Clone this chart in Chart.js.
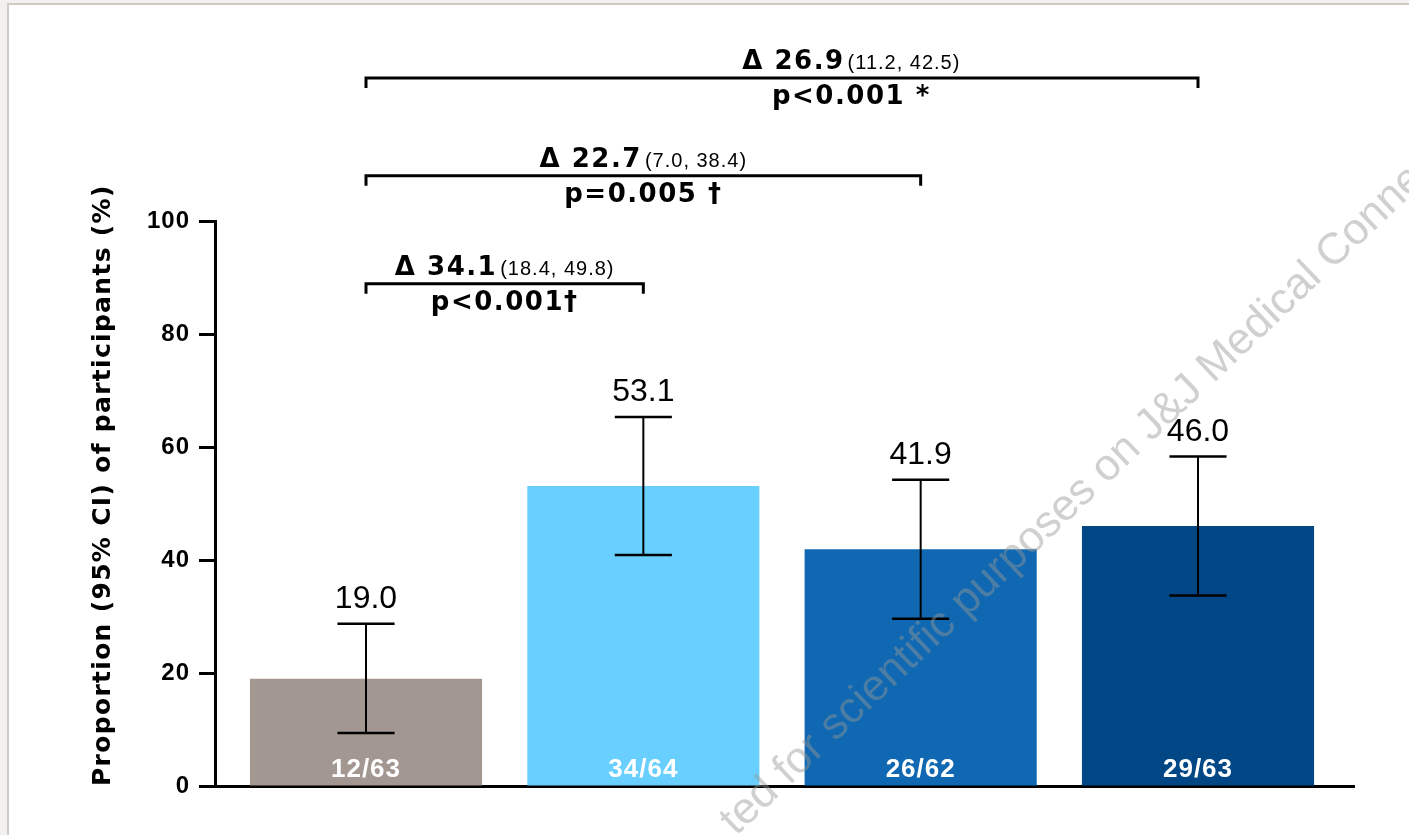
<!DOCTYPE html>
<html>
<head>
<meta charset="utf-8">
<script src="https://cdn.jsdelivr.net/npm/chart.js@4.4.1/dist/chart.umd.min.js"></script>
<style>
    html, body { margin: 0; padding: 0; overflow: hidden; }
    body { width: 1409px; height: 835px; background: #f2f1ef; position: relative; }
    #panel {
        position: absolute; left: 7px; top: 3px; width: 1500px; height: 1000px;
        background: #fff; border-top: 2px solid #cfcac4; border-left: 2px solid #cfcac4;
    }
    #chart { position: absolute; left: 0; top: 0; }
</style>
</head>
<body>
<div id="panel"></div>
<canvas id="chart" width="1409" height="835"></canvas>
<script>
// ---- Data: responders / n, proportion and 95% CI per arm ----
const groupLabels = ["12/63", "34/64", "26/62", "29/63"];
const proportions = [19.0, 53.1, 41.9, 46.0];
const ciLow       = [9.4, 40.9, 29.6, 33.7];
const ciHigh      = [28.7, 65.3, 54.2, 58.3];
const yTickValues = [0, 20, 40, 60, 80, 100];

// ---- Pairwise comparisons against the first arm ----
const cmpFrom  = [0, 0, 0];
const cmpTo    = [1, 2, 3];
const cmpDelta = ["34.1", "22.7", "26.9"];
const cmpCI    = ["(18.4, 49.8)", "(7.0, 38.4)", "(11.2, 42.5)"];
const cmpP     = ["p<0.001\u2020", "p=0.005 \u2020", "p<0.001 *"];

const yTitle    = "Proportion (95% CI) of participants (%)";
const barColors = ["#a39791", "#69cfff", "#0f68b1", "#014786"];
const FONT      = '"Liberation Sans", Arial, Helvetica, sans-serif';
const WIDE      = '"DejaVu Sans", "Liberation Sans", sans-serif';

// error bars, value labels, brackets, axis title and watermark
const overlay = {
    id: "overlay",

    beforeDraw(chart) {
        chart.ctx.letterSpacing = "1px";     // tracked tick labels
    },

    beforeDatasetsDraw(chart) {
        chart.ctx.letterSpacing = "0px";
    },

    afterDatasetsDraw(chart) {
        const ctx  = chart.ctx;
        const y    = chart.scales.y;
        const bars = chart.getDatasetMeta(0).data;

        ctx.save();
        bars.forEach((bar, i) => {
            const cx      = bar.x;
            const capHalf = bar.width * 0.123;
            const yLo     = y.getPixelForValue(ciLow[i]);
            const yHi     = y.getPixelForValue(ciHigh[i]);

            ctx.strokeStyle = "#000";
            ctx.lineWidth = 2;
            ctx.beginPath();
            ctx.moveTo(cx, yLo);
            ctx.lineTo(cx, yHi);
            ctx.stroke();

            ctx.lineWidth = 2.5;
            ctx.beginPath();
            ctx.moveTo(cx - capHalf, yLo); ctx.lineTo(cx + capHalf, yLo);
            ctx.moveTo(cx - capHalf, yHi); ctx.lineTo(cx + capHalf, yHi);
            ctx.stroke();

            // value above the upper whisker
            ctx.fillStyle = "#000";
            ctx.font = "32px " + FONT;
            ctx.textAlign = "center";
            ctx.textBaseline = "alphabetic";
            ctx.letterSpacing = "0px";
            ctx.fillText(proportions[i].toFixed(1), cx, yHi - 16);

            // n/N at the foot of the bar
            ctx.fillStyle = "#fff";
            ctx.font = "bold 26px " + FONT;
            ctx.letterSpacing = "1px";
            ctx.fillText(groupLabels[i], cx, y.getPixelForValue(0) - 9);
            ctx.letterSpacing = "0px";
        });
        ctx.restore();
    },

    afterDraw(chart, args, opts) {
        const ctx  = chart.ctx;
        const x    = chart.scales.x;
        const y    = chart.scales.y;
        const area = chart.chartArea;

        // ---- significance brackets ----
        ctx.save();
        ctx.strokeStyle = "#000";
        ctx.fillStyle = "#000";
        ctx.textBaseline = "alphabetic";
        cmpFrom.forEach((from, k) => {
            const x1  = x.getPixelForValue(from);
            const x2  = x.getPixelForValue(cmpTo[k]);
            const yy  = y.getPixelForValue(opts.levels[k]);
            const mid = x.getPixelForValue(opts.labelAt[k]);

            ctx.lineWidth = 3;
            ctx.beginPath();
            ctx.moveTo(x1, yy + 10);
            ctx.lineTo(x1, yy);
            ctx.lineTo(x2, yy);
            ctx.lineTo(x2, yy + 10);
            ctx.stroke();

            const head = "\u0394 " + cmpDelta[k];
            ctx.font = "bold 26px " + WIDE;
            ctx.letterSpacing = "1.5px";
            const w1 = ctx.measureText(head).width;
            ctx.font = "20px " + FONT;
            ctx.letterSpacing = "1px";
            const w2 = ctx.measureText(cmpCI[k]).width;
            const gap = 3;
            const sx = mid - (w1 + gap + w2) / 2;

            ctx.textAlign = "left";
            ctx.font = "bold 26px " + WIDE;
            ctx.letterSpacing = "1.5px";
            ctx.fillText(head, sx, yy - 9);
            ctx.font = "20px " + FONT;
            ctx.letterSpacing = "1px";
            ctx.fillText(cmpCI[k], sx + w1 + gap, yy - 9);

            ctx.textAlign = "center";
            ctx.font = "bold 26px " + WIDE;
            ctx.letterSpacing = "1.5px";
            ctx.fillText(cmpP[k], mid, yy + 26);
        });
        ctx.restore();

        // ---- y axis title, reading upwards from the baseline ----
        ctx.save();
        ctx.translate(area.left - 105, area.bottom);
        ctx.rotate(-Math.PI / 2);
        ctx.font = "bold 25px " + WIDE;
        ctx.letterSpacing = "1.3px";
        ctx.fillStyle = "#000";
        ctx.textAlign = "left";
        ctx.textBaseline = "alphabetic";
        ctx.fillText(yTitle, 0, 0);
        ctx.restore();

        // ---- diagonal watermark ----
        const pre = "ted for scientific purposes on ";
        ctx.save();
        ctx.translate(chart.width * 0.817, chart.height * 0.530);
        ctx.rotate(-43.5 * Math.PI / 180);
        ctx.font = "44px " + FONT;
        ctx.letterSpacing = "0px";
        ctx.fillStyle = "rgba(150,150,150,0.45)";
        ctx.textAlign = "left";
        ctx.textBaseline = "alphabetic";
        ctx.fillText(pre + "J&J Medical Connect", -ctx.measureText(pre).width, 0);
        ctx.restore();
    }
};

new Chart(document.getElementById("chart"), {
    type: "bar",
    data: {
        datasets: [{
            data: proportions.map((v, i) => ({ x: i, y: v })),
            backgroundColor: barColors,
            borderWidth: 0,
            barPercentage: 0.837,
            categoryPercentage: 1.0
        }]
    },
    options: {
        responsive: false,
        animation: false,
        events: [],
        layout: { padding: { left: 0, top: 221, right: 55, bottom: 49 } },
        plugins: {
            legend: { display: false },
            tooltip: { enabled: false },
            // bracket heights (y units) and label centres (x units)
            overlay: { levels: [88.9, 108, 125.3], labelAt: [0.5, 1.0, 1.75] }
        },
        scales: {
            x: {
                type: "linear",
                offset: false,
                min: -0.5445,
                max: 3.5625,
                afterBuildTicks: s => { s.ticks = groupLabels.map((_, i) => ({ value: i })); },
                afterFit: s => { s.height = 0; },
                ticks: { display: false },
                grid: { display: false, drawTicks: false },
                border: { display: true, color: "#000", width: 3 }
            },
            y: {
                min: 0,
                max: 100,
                afterBuildTicks: s => { s.ticks = yTickValues.map(v => ({ value: v })); },
                afterFit: s => { s.width = 215; },
                ticks: {
                    color: "#000",
                    padding: 9,
                    font: { family: FONT, size: 24, weight: "bold" }
                },
                grid: {
                    drawOnChartArea: false,
                    drawTicks: true,
                    tickLength: 16,
                    tickWidth: 3,
                    tickColor: "#000",
                    color: "#000"
                },
                border: { display: true, color: "#000", width: 3 }
            }
        }
    },
    plugins: [overlay]
});
</script>
</body>
</html>
